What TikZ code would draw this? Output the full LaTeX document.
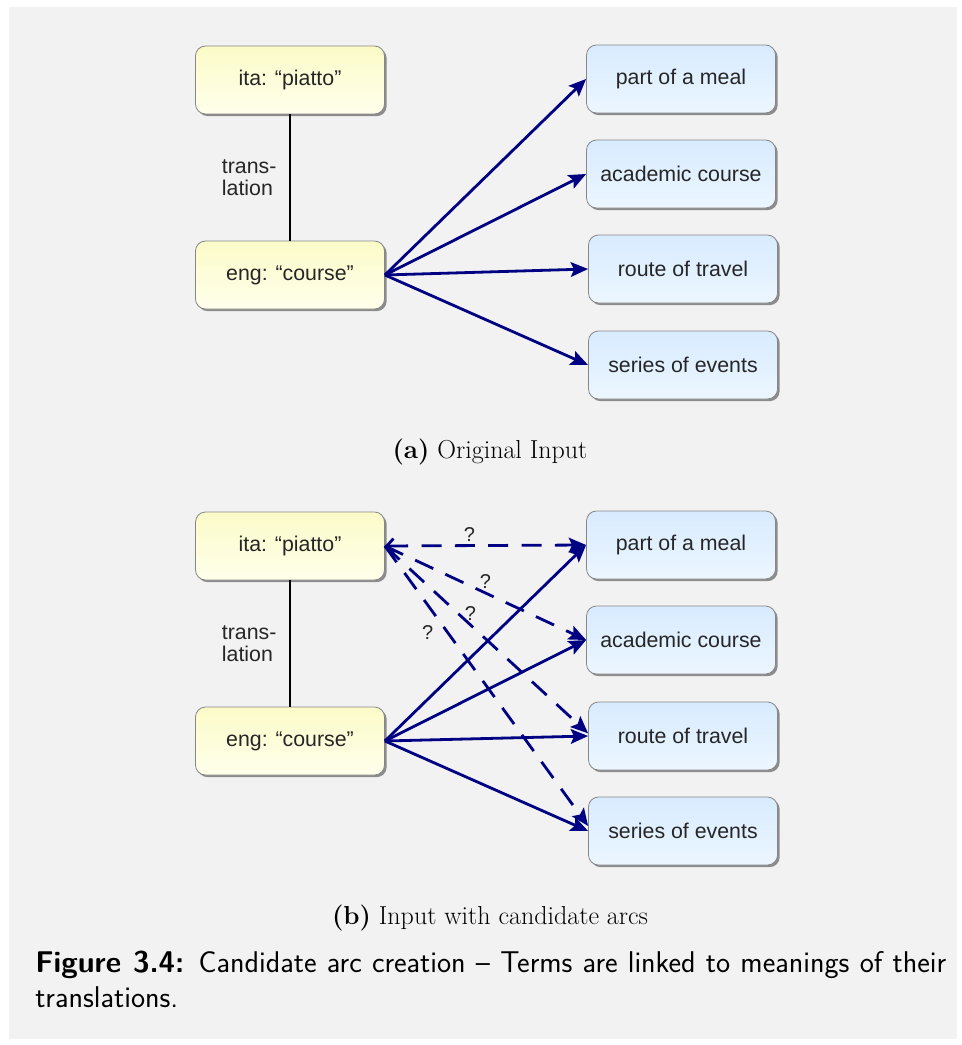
\documentclass[tikz,border=0pt]{standalone}
\usepackage{fontspec}
\usepackage{tikz}
\usetikzlibrary{arrows.meta,shadows}
\newfontfamily\boxfont{Liberation Sans}
\definecolor{panelgray}{RGB}{242,242,242}
\definecolor{arcblue}{RGB}{0,0,130}
\definecolor{boxline}{RGB}{135,135,135}
\definecolor{termtop}{RGB}{251,251,200}
\definecolor{termbot}{RGB}{255,255,236}
\definecolor{sensetop}{RGB}{216,235,255}
\definecolor{sensebot}{RGB}{236,246,255}
\tikzset{
  box/.style={draw=boxline, line width=0.6pt, rounded corners=7.5pt,
    minimum width=141.75pt, minimum height=51pt, text=black!85,
    font=\boxfont\fontsize{16}{18}\selectfont,
    drop shadow={shadow xshift=1.6pt, shadow yshift=-1.6pt, fill=black!55, opacity=0.8}},
  term/.style={box, top color=termtop, bottom color=termbot},
  sense/.style={box, top color=sensetop, bottom color=sensebot},
  arc/.style={draw=arcblue, line width=2.1pt, -{Stealth[length=13pt, width=11pt, inset=2.5pt]}},
  cand/.style={arc, dash pattern=on 15pt off 10pt},
  qmark/.style={font=\boxfont\fontsize{15}{17}\selectfont, text=black!85, inner sep=2pt},
  translabel/.style={left=6pt, align=left, font=\boxfont\fontsize{16}{16.5}\selectfont, text=black!85},
}
\begin{document}
\begin{tikzpicture}[x=0.75pt, y=-0.75pt]
\useasboundingbox (0,0) rectangle (962,1045);
\fill[white] (0,0) rectangle (962,1045);
\fill[panelgray] (9,7) rectangle (957,1039);

\node[term] (ita1) at (290,80) {ita: “piatto”};
\node[term] (eng1) at (290,275) {eng: “course”};
\node[sense] (meal1) at (681,79) {part of a meal};
\node[sense] (acad1) at (681,174) {academic course};
\node[sense] (route1) at (683,269) {route of travel};
\node[sense] (series1) at (683,365) {series of events};
\draw[line width=1.6pt] (ita1) -- node[translabel] {trans-\\lation} (eng1);
\foreach \s in {meal1,acad1,route1,series1} {\draw[arc] (eng1.east) -- (\s.west);}
\node (capa) at (490,452) {\fontsize{19.5}{22}\selectfont\textbf{(a)} Original Input};

\node[term] (ita2) at (290,546) {ita: “piatto”};
\node[term] (eng2) at (290,741) {eng: “course”};
\node[sense] (meal2) at (681,545) {part of a meal};
\node[sense] (acad2) at (681,640) {academic course};
\node[sense] (route2) at (683,736) {route of travel};
\node[sense] (series2) at (683,831) {series of events};
\draw[line width=1.6pt] (ita2) -- node[translabel] {trans-\\lation} (eng2);
\draw[cand, {Straight Barb[length=5pt, width=11pt]}-{Stealth[length=13pt, width=11pt, inset=2.5pt]}] (ita2.east) -- node[qmark, pos=0.42, above] {?} (meal2.west);
\draw[cand] (ita2.east) -- node[qmark, pos=0.5, above] {?} (acad2.west);
\draw[cand] (ita2.east) -- node[qmark, pos=0.36, right=2pt] {?} ([yshift=2pt]route2.west);
\draw[cand] (ita2.east) -- node[qmark, pos=0.31, left=8pt] {?} ([yshift=3.75pt]series2.west);
\foreach \s in {meal2,acad2,route2,series2} {\draw[arc] (eng2.east) -- (\s.west);}
\node (capb) at (490,918) {\fontsize{19.5}{22}\selectfont\textbf{(b)} Input with candidate arcs};

\node[anchor=north west, inner sep=0pt, text width=683.25pt, align=justify,
  font=\sffamily\fontsize{22.5}{26.25}\selectfont] (figcap) at (35,951)
  {\textbf{Figure 3.4:} Candidate arc creation -- Terms are linked to meanings of their translations.};
\end{tikzpicture}
\end{document}
